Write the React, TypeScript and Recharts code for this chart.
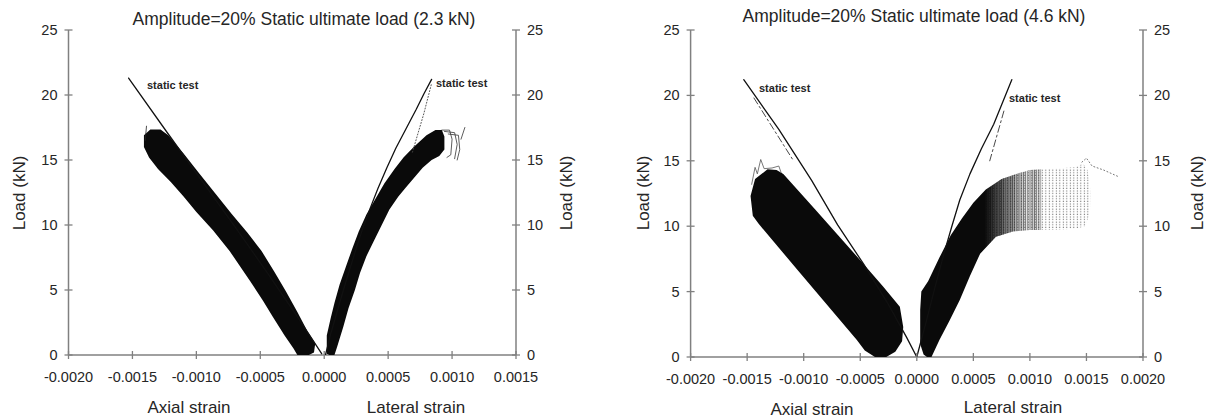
import { ScatterChart, Scatter, XAxis, YAxis } from "recharts";

type Pt = [number, number];
const toXY = (a: Pt[]) => a.map(([x, y]) => ({ x, y }));

const FONT = "'Liberation Sans', Arial, sans-serif";
const AXIS = "#808080";
const TXT = "#262626";
const INK = "#0a0a0a";

// axis ticks
const loadTicks = [0, 5, 10, 15, 20, 25];
const leftStrainTicks = [-0.002, -0.0015, -0.001, -0.0005, 0, 0.0005, 0.001, 0.0015];
const rightStrainTicks = [-0.002, -0.0015, -0.001, -0.0005, 0, 0.0005, 0.001, 0.0015, 0.002];

// ---- left panel (2.3 kN) : strain, load ----
const lStaticAxial: Pt[] = [
  [-0.00153, 21.3], [-0.00122, 17.0], [-0.00095, 13.3], [-0.0007, 9.9],
  [-0.00045, 6.4], [-0.0002, 2.8], [-0.00002, 0.1],
];
const lAxialBand: Pt[] = [
  [-0.00136, 17.35], [-0.00128, 17.35], [-0.00122, 16.9], [-0.0011, 15.5],
  [-0.00098, 14.0], [-0.00085, 12.4], [-0.00072, 10.8], [-0.0006, 9.4],
  [-0.00049, 8.0], [-0.00039, 6.4], [-0.0003, 4.9], [-0.00021, 3.3],
  [-0.00013, 1.8], [-0.00007, 0.9], [-0.00008, 0.2], [-0.00012, 0],
  [-0.00021, 0], [-0.00024, 0.5], [-0.00031, 1.5], [-0.0004, 2.9],
  [-0.00048, 4.2], [-0.00058, 5.7], [-0.00074, 8.0], [-0.00087, 9.6],
  [-0.001, 11.0], [-0.0011, 12.2], [-0.0012, 13.3], [-0.0013, 14.3],
  [-0.00137, 15.2], [-0.00141, 16.0], [-0.00141, 16.9],
];
const lAxialSpike: Pt[] = [[-0.0014, 16.5], [-0.00139, 17.6]];
const lStaticLateral: Pt[] = [
  [0.00001, 0], [0.00005, 1.6], [0.0001, 3.3], [0.00015, 5.0], [0.0002, 6.6],
  [0.00025, 8.2], [0.0003, 9.7], [0.00036, 11.3], [0.00042, 12.8], [0.00049, 14.4],
  [0.00056, 15.9], [0.00064, 17.4], [0.00072, 18.9], [0.00078, 20.1], [0.00084, 21.2],
];
const lDottedLateral: Pt[] = [[0.00069, 15.6], [0.00078, 18.6], [0.00084, 20.9]];
const lLateralBand: Pt[] = [
  [0.00002, 0.1], [0.00002, 1.5], [0.00005, 2.8], [0.00008, 4.0], [0.00012, 5.4],
  [0.00017, 6.8], [0.00022, 8.2], [0.00027, 9.5], [0.00033, 10.8], [0.0004, 12.0],
  [0.00047, 13.2], [0.00055, 14.3], [0.00062, 15.2], [0.0007, 16.0], [0.0008, 16.9],
  [0.00087, 17.3], [0.00092, 17.3], [0.00094, 16.8], [0.00094, 15.8], [0.0009, 15.3],
  [0.00084, 15.0], [0.00077, 14.4], [0.0007, 13.6], [0.00064, 12.9], [0.00058, 12.2],
  [0.00051, 11.2], [0.00045, 10.0], [0.00039, 8.8], [0.00033, 7.6], [0.00028, 6.3],
  [0.00024, 5.0], [0.00019, 3.6], [0.00015, 2.2], [0.0001, 0.6], [0.00008, 0],
  [0.00004, 0],
];
const lLoop1: Pt[] = [[0.00092, 17.3], [0.00098, 17.3], [0.001, 16.6], [0.00099, 15.4], [0.00096, 15.2]];
const lLoop2: Pt[] = [[0.00094, 17.2], [0.00102, 17.1], [0.00104, 16.2], [0.00102, 15.1]];
const lLoop3: Pt[] = [[0.00097, 17.0], [0.00105, 16.9], [0.00106, 15.8], [0.00104, 15.0]];
const lTail: Pt[] = [[0.00107, 16.6], [0.0011, 17.5]];

// ---- right panel (4.6 kN) ----
const rStaticAxial: Pt[] = [
  [-0.00153, 21.2], [-0.00122, 17.4], [-0.00093, 13.5], [-0.0007, 10.1],
  [-0.00047, 7.1], [-0.00025, 4.0], [-0.00009, 1.5], [0, 0],
];
const rDashAxial: Pt[] = [[-0.00144, 19.8], [-0.00109, 15.0]];
const rAxialBand: Pt[] = [
  [-0.00132, 14.35], [-0.00124, 14.3], [-0.00118, 14.0], [-0.0009, 11.3],
  [-0.0005, 7.4], [-0.0003, 5.4], [-0.00015, 3.84], [-0.00012, 2.3],
  [-0.00013, 1.2], [-0.00019, 0.4], [-0.00027, 0], [-0.00037, 0],
  [-0.00046, 0.5], [-0.00053, 1.3], [-0.00103, 6.4], [-0.0014, 10.2],
  [-0.00145, 10.8], [-0.00147, 12.3], [-0.00143, 13.6],
];
const rAxialWiggle: Pt[] = [
  [-0.00146, 13.2], [-0.00143, 14.5], [-0.00141, 14.0], [-0.00138, 15.1],
  [-0.00135, 14.4], [-0.00128, 14.45], [-0.00122, 14.6], [-0.0012, 14.1],
];
const rStaticLateral: Pt[] = [
  [0, 0], [0.00008, 2.6], [0.00016, 5.3], [0.00024, 7.9], [0.00031, 10.0],
  [0.00038, 12.0], [0.00047, 14.0], [0.00057, 15.9], [0.00068, 17.8],
  [0.00076, 19.5], [0.00084, 21.2],
];
const rDashLateral: Pt[] = [[0.00077, 18.8], [0.000645, 15.0]];
const rLateralDense: Pt[] = [
  [0.00009, 0], [0.00013, 0], [0.0002, 1.3], [0.00029, 2.8], [0.00038, 4.35],
  [0.00047, 6.2], [0.00056, 7.9], [0.0007, 9.2], [0.00085, 9.6], [0.00092, 9.65],
  [0.00092, 14.15], [0.00088, 14.0], [0.00075, 13.6], [0.00061, 12.8], [0.0005, 11.8],
  [0.0004, 10.6], [0.0003, 9.3], [0.0002, 7.6], [0.0001, 5.8], [0.00004, 5.0],
  [0.00003, 3.6], [0.00003, 1.0], [0.00006, 0.2],
];
const rLateralMid: Pt[] = [
  [0.0006, 12.7], [0.00075, 13.6], [0.00088, 14.0], [0.001, 14.3], [0.0011, 14.35],
  [0.0011, 9.7], [0.001, 9.7], [0.00085, 9.6], [0.0007, 9.2], [0.0006, 8.3],
];
const rLateralSparse: Pt[] = [
  [0.0006, 12.7], [0.00075, 13.6], [0.00088, 14.0], [0.001, 14.3], [0.0012, 14.4],
  [0.0014, 14.5], [0.00147, 14.8], [0.00151, 14.3], [0.00154, 12.5], [0.00153, 11.0],
  [0.00149, 10.0], [0.0014, 9.8], [0.0012, 9.7], [0.001, 9.7], [0.00085, 9.6],
  [0.0007, 9.2], [0.0006, 8.3],
];
const rSparseTail: Pt[] = [[0.00146, 14.9], [0.0015, 15.2], [0.00155, 14.6], [0.00165, 14.3], [0.00178, 13.8]];

const fmtStrain = (v: number) => (Math.abs(v) < 1e-12 ? 0 : v).toFixed(4);

function XTick({ x, y, payload }: any) {
  const ay = y - 10;
  return (
    <g>
      <line x1={x} x2={x} y1={ay - 4} y2={ay + 4} stroke={AXIS} strokeWidth={1.3} />
      <text x={x} y={ay + 27} textAnchor="middle" fontSize={14.5} fill={TXT} fontFamily={FONT}>
        {fmtStrain(payload.value)}
      </text>
    </g>
  );
}

function YTickL({ x, y, payload }: any) {
  const ax = x + 10;
  return (
    <g>
      <line x1={ax - 4} x2={ax + 4} y1={y} y2={y} stroke={AXIS} strokeWidth={1.3} />
      <text x={ax - 11} y={y + 5} textAnchor="end" fontSize={14.5} fill={TXT} fontFamily={FONT}>
        {payload.value}
      </text>
    </g>
  );
}

function YTickR({ x, y, payload }: any) {
  const ax = x - 10;
  return (
    <g>
      <line x1={ax - 4} x2={ax + 4} y1={y} y2={y} stroke={AXIS} strokeWidth={1.3} />
      <text x={ax + 11} y={y + 5} textAnchor="start" fontSize={14.5} fill={TXT} fontFamily={FONT}>
        {payload.value}
      </text>
    </g>
  );
}

// path drawn from the scatter's own projected points
const pathLine =
  (opts: { fill?: string; stroke?: string; width?: number; dash?: string; close?: boolean }) =>
  (p: any) => {
    const pts: { x: number; y: number }[] = p.points || [];
    const d =
      pts.map((q, i) => `${i ? "L" : "M"}${q.x},${q.y}`).join(" ") + (opts.close ? " Z" : "");
    return (
      <path
        d={d}
        fill={opts.fill ?? "none"}
        stroke={opts.stroke ?? "none"}
        strokeWidth={opts.width ?? 0}
        strokeDasharray={opts.dash}
        strokeLinejoin="round"
        strokeLinecap="round"
      />
    );
  };

const noDot = () => <g />;

function renderSeries(
  key: string,
  data: Pt[],
  opts: { fill?: string; stroke?: string; width?: number; dash?: string; close?: boolean },
  yId = "l"
) {
  return (
    <Scatter
      key={key}
      data={toXY(data)}
      yAxisId={yId}
      shape={noDot}
      line={pathLine(opts)}
      lineType="joint"
      isAnimationActive={false}
      legendType="none"
    />
  );
}

const axisCommon = {
  stroke: AXIS,
  strokeWidth: 1.5,
  tickLine: false,
  tickSize: 4,
  tickMargin: 6,
};

function Panel({
  width,
  margin,
  xDomain,
  xTicks,
  children,
}: {
  width: number;
  margin: { top: number; right: number; bottom: number; left: number };
  xDomain: [number, number];
  xTicks: number[];
  children: any;
}) {
  return (
    <ScatterChart width={width} height={419} margin={margin}>
      <XAxis
        type="number"
        dataKey="x"
        domain={xDomain}
        ticks={xTicks}
        interval={0}
        height={30}
        allowDataOverflow
        tick={<XTick />}
        {...axisCommon}
      />
      <YAxis
        yAxisId="l"
        type="number"
        dataKey="y"
        domain={[0, 25]}
        ticks={loadTicks}
        interval={0}
        width={50}
        allowDataOverflow
        tick={<YTickL />}
        {...axisCommon}
      />
      <YAxis
        yAxisId="r"
        orientation="right"
        type="number"
        dataKey="y"
        domain={[0, 25]}
        ticks={loadTicks}
        interval={0}
        width={50}
        allowDataOverflow
        tick={<YTickR />}
        {...axisCommon}
      />
      {children}
    </ScatterChart>
  );
}

const txt = (
  s: string,
  x: number,
  y: number,
  size: number,
  opts: { rotate?: boolean; anchor?: "start" | "middle"; bold?: boolean } = {}
) => (
  <div
    key={s + x + y}
    style={{
      position: "absolute",
      left: x,
      top: y,
      transform: `translate(${opts.anchor === "start" ? "0" : "-50%"}, -50%)${
        opts.rotate ? " rotate(-90deg)" : ""
      }`,
      fontSize: size,
      fontWeight: opts.bold ? 700 : 400,
      color: TXT,
      whiteSpace: "nowrap",
      lineHeight: 1,
      fontFamily: FONT,
    }}
  >
    {s}
  </div>
);

export default function App() {
  return (
    <div
      style={{
        position: "absolute",
        left: 0,
        top: 0,
        width: 1206,
        height: 419,
        background: "#fff",
        overflow: "hidden",
        fontFamily: FONT,
      }}
    >
      <svg width={0} height={0} style={{ position: "absolute" }}>
        <defs>
          <pattern id="dotsSparse" width={3.5} height={2.6} patternUnits="userSpaceOnUse">
            <rect x={0.8} y={0.6} width={1} height={1} fill="#555" />
          </pattern>
          <pattern id="dotsDense" width={2.2} height={2} patternUnits="userSpaceOnUse">
            <rect x={0.4} y={0.4} width={1.2} height={1.2} fill="#1a1a1a" />
          </pattern>
          <linearGradient id="fadeR" x1="0" y1="0" x2="1" y2="0">
            <stop offset="0" stopColor={INK} stopOpacity={1} />
            <stop offset="0.64" stopColor={INK} stopOpacity={1} />
            <stop offset="1" stopColor={INK} stopOpacity={0.1} />
          </linearGradient>
        </defs>
      </svg>

      <div style={{ position: "absolute", left: 0, top: 0 }}>
        <Panel
          width={600}
          margin={{ top: 30, right: 34, bottom: 34, left: 18.5 }}
          xDomain={[-0.002, 0.0015]}
          xTicks={leftStrainTicks}
        >
          {renderSeries("lab", lAxialBand, { fill: INK, close: true })}
          {renderSeries("lsp", lAxialSpike, { stroke: "#222", width: 0.8 })}
          {renderSeries("llb", lLateralBand, { fill: INK, close: true })}
          {renderSeries("ll1", lLoop1, { stroke: "#333", width: 0.8 })}
          {renderSeries("ll2", lLoop2, { stroke: "#333", width: 0.8 })}
          {renderSeries("ll3", lLoop3, { stroke: "#333", width: 0.8 })}
          {renderSeries("llt", lTail, { stroke: "#333", width: 0.8 })}
          {renderSeries("lsa", lStaticAxial, { stroke: "#111", width: 1.3 })}
          {renderSeries("ldl", lDottedLateral, { stroke: "#444", width: 0.9, dash: "1 2" })}
          {renderSeries("lsl", lStaticLateral, { stroke: "#111", width: 1.3 }, "r")}
        </Panel>
      </div>

      <div style={{ position: "absolute", left: 600, top: 0 }}>
        <Panel
          width={606}
          margin={{ top: 30, right: 13, bottom: 32, left: 40.6 }}
          xDomain={[-0.002, 0.002]}
          xTicks={rightStrainTicks}
        >
          {renderSeries("rls", rLateralSparse, { fill: "url(#dotsSparse)", close: true })}
          {renderSeries("rlm", rLateralMid, { fill: "url(#dotsDense)", close: true })}
          {renderSeries("rld", rLateralDense, { fill: "url(#fadeR)", close: true })}
          {renderSeries("rst", rSparseTail, { stroke: "#777", width: 1, dash: "1 2.5" })}
          {renderSeries("rab", rAxialBand, { fill: INK, close: true })}
          {renderSeries("raw", rAxialWiggle, { stroke: "#555", width: 0.8 })}
          {renderSeries("rsa", rStaticAxial, { stroke: "#111", width: 1.3 })}
          {renderSeries("rda", rDashAxial, { stroke: "#333", width: 0.9, dash: "7 3 2 3" })}
          {renderSeries("rdl", rDashLateral, { stroke: "#333", width: 0.9, dash: "7 3 2 3" })}
          {renderSeries("rsl", rStaticLateral, { stroke: "#111", width: 1.3 }, "r")}
        </Panel>
      </div>

      {txt("Amplitude=20% Static ultimate load (2.3 kN)", 304, 20, 17.5)}
      {txt("Axial strain", 189, 407, 17)}
      {txt("Lateral strain", 416, 407, 17)}
      {txt("Load (kN)", 19, 193, 17, { rotate: true })}
      {txt("Load (kN)", 566, 193, 17, { rotate: true })}
      {txt("static test", 147, 85, 11, { anchor: "start", bold: true })}
      {txt("static test", 436, 83, 11, { anchor: "start", bold: true })}

      {txt("Amplitude=20% Static ultimate load (4.6 kN)", 914, 17, 17.5)}
      {txt("Axial strain", 812, 409, 17)}
      {txt("Lateral strain", 1013, 407, 17)}
      {txt("Load (kN)", 642.5, 193, 17, { rotate: true })}
      {txt("Load (kN)", 1196.5, 193, 17, { rotate: true })}
      {txt("static test", 759, 88, 11, { anchor: "start", bold: true })}
      {txt("static test", 1009, 98, 11, { anchor: "start", bold: true })}
    </div>
  );
}
